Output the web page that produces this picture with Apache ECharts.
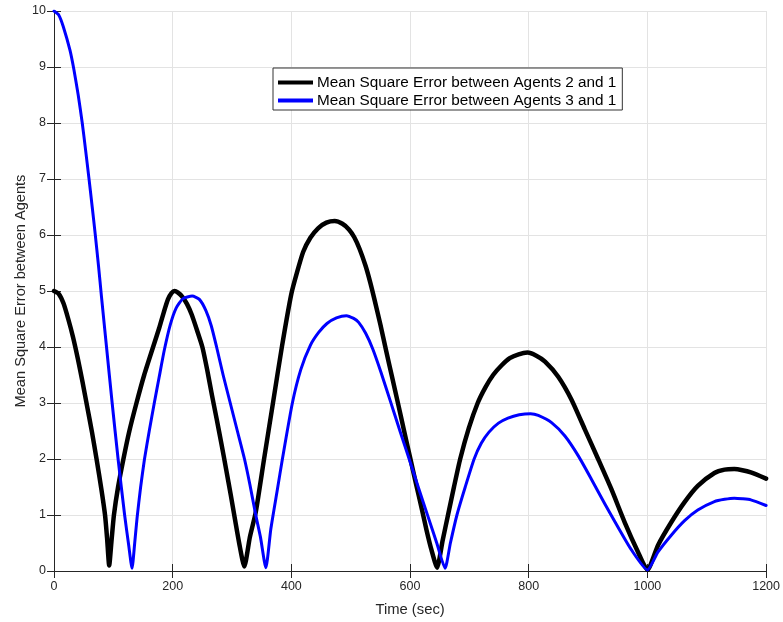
<!DOCTYPE html>
<html>
<head>
<meta charset="utf-8">
<title>Mean Square Error between Agents</title>
<script src="https://cdn.jsdelivr.net/npm/echarts@6/dist/echarts.min.js"></script>
<style>
  html, body { margin: 0; padding: 0; background: #ffffff; }
  #chart { width: 783px; height: 622px; }
</style>
</head>
<body>
<div id="chart"></div>
<script>
// Time samples (sec) and mean square error values for each agent pair
const timeA21 = [0, 8, 16, 24, 32, 40, 48, 56, 64, 72, 80, 86, 89.5, 93,
  97, 101, 108, 117, 127, 139, 152, 167, 177, 185, 192, 198, 203,
  209, 216, 224, 232, 241, 250, 258, 266, 274, 282, 290, 298, 305, 312, 320.7,
  330, 340, 354, 369, 384, 400, 410, 420, 432, 445, 459, 473,
  486, 497, 506, 515, 525, 533, 540, 550, 560, 570, 580, 590, 600, 610, 620, 628, 636, 645.5,
  655, 664, 674, 684.5, 699, 714, 727, 740, 754, 768, 783, 798,
  812, 827.5, 849.7, 872.1, 894.5, 916.9, 939.3, 961.7, 984.1, 1000,
  1017.9, 1040.2, 1062.6, 1084.9, 1112.9, 1130, 1146.4, 1160, 1174.3, 1200];
const mseA21 = [5.0, 4.95, 4.78, 4.5, 4.18, 3.8, 3.38, 2.93, 2.48, 1.98, 1.45, 1.0, 0.58, 0.1,
  0.55, 1.0, 1.5, 2.0, 2.5, 3.0, 3.5, 4.0, 4.33, 4.62, 4.85, 4.96, 5.0,
  4.97, 4.9, 4.77, 4.58, 4.3, 4.0, 3.6, 3.15, 2.72, 2.28, 1.82, 1.35, 0.92, 0.5, 0.08,
  0.6, 1.05, 2.0, 3.0, 4.0, 4.95, 5.35, 5.7, 5.95, 6.12, 6.22, 6.25,
  6.2, 6.1, 5.96, 5.75, 5.45, 5.15, 4.85, 4.4, 3.92, 3.45, 2.98, 2.5, 2.03, 1.56, 1.1, 0.72, 0.38, 0.06,
  0.55, 1.0, 1.5, 2.0, 2.55, 3.0, 3.28, 3.5, 3.67, 3.8, 3.87, 3.9,
  3.85, 3.74, 3.47, 3.06, 2.53, 2.0, 1.46, 0.87, 0.34, 0.02,
  0.46, 0.87, 1.23, 1.52, 1.75, 1.81, 1.82, 1.8, 1.76, 1.65];

const timeA31 = [0, 8, 15.7, 26.9, 33.6, 40.8, 47.6, 53.2, 58.8, 64.4, 69.4, 75,
  80, 88.5, 98, 108, 119, 126, 131.5,
  136, 140, 146, 152.5, 160.5, 169, 177, 186, 196, 206, 217, 232.9,
  245, 256, 265, 274, 285, 297, 309, 321, 330, 340, 348, 357,
  365.4, 376.5, 384.9, 401.7, 416, 432, 446, 460, 476, 492.7,
  505, 513.4, 525, 537, 551, 566, 583, 600, 615, 630, 645, 659,
  668, 679, 693, 708, 720, 733, 749, 765, 784, 803,
  816.1, 838.5, 861, 883.3, 905.6, 928.1, 950.5, 972.8, 1000,
  1017.9, 1040.2, 1062.6, 1084.9, 1112.9, 1130, 1146.4, 1160, 1174.3, 1200];
const mseA31 = [10.0, 9.93, 9.72, 9.3, 8.95, 8.5, 8.0, 7.52, 7.02, 6.5, 6.02, 5.45,
  4.9, 4.0, 3.0, 2.0, 1.0, 0.45, 0.05,
  0.5, 0.95, 1.5, 2.0, 2.5, 3.0, 3.45, 3.95, 4.4, 4.7, 4.86, 4.91,
  4.85, 4.65, 4.38, 4.0, 3.5, 3.0, 2.5, 2.0, 1.55, 1.0, 0.6, 0.06,
  0.75, 1.46, 2.0, 3.0, 3.6, 4.03, 4.26, 4.42, 4.52, 4.56,
  4.51, 4.44, 4.25, 3.97, 3.55, 3.06, 2.5, 1.95, 1.46, 0.98, 0.5, 0.05,
  0.5, 1.0, 1.5, 2.0, 2.28, 2.48, 2.64, 2.73, 2.79, 2.81,
  2.78, 2.65, 2.41, 2.06, 1.64, 1.2, 0.78, 0.38, 0.02,
  0.34, 0.64, 0.9, 1.09, 1.24, 1.28, 1.3, 1.29, 1.27, 1.17];

const seriesNames = [
  'Mean Square Error between Agents 2 and 1',
  'Mean Square Error between Agents 3 and 1'
];
const seriesColors = ['#000000', '#0000ff'];
const xTicks = [0, 200, 400, 600, 800, 1000, 1200];
const yTicks = [0, 1, 2, 3, 4, 5, 6, 7, 8, 9, 10];

const pairs = (xs, ys) => xs.map((x, i) => [x, ys[i]]);

const tickColor = '#262626';
const labelFont = 'Liberation Sans, Arial, Helvetica, sans-serif';

const chart = echarts.init(document.getElementById('chart'), null, { renderer: 'canvas' });

const baseX = {
  type: 'value',
  min: xTicks[0],
  max: xTicks[xTicks.length - 1],
  interval: xTicks[1] - xTicks[0]
};
const baseY = {
  type: 'value',
  min: yTicks[0],
  max: yTicks[yTicks.length - 1],
  interval: yTicks[1] - yTicks[0]
};
const boxLine = { show: true, lineStyle: { color: tickColor, width: 1 } };
const inTicks = { show: true, inside: true, length: 7, lineStyle: { color: tickColor } };

chart.setOption({
  backgroundColor: '#ffffff',
  animation: false,
  textStyle: { fontFamily: labelFont },
  grid: { left: 54, right: 14, top: 11, bottom: 46, containLabel: false },
  legend: {
    left: 273,
    top: 68,
    orient: 'vertical',
    backgroundColor: '#ffffff',
    borderColor: '#333333',
    borderWidth: 1,
    borderRadius: 0,
    padding: [7, 6, 2, 5],
    itemGap: 3,
    itemWidth: 35,
    itemHeight: 4,
    textStyle: { color: '#000000', fontSize: 15.3, fontFamily: labelFont, padding: [0, 0, 0, -1] },
    data: seriesNames.map((n, i) => ({
      name: n,
      icon: 'rect',
      itemStyle: { color: seriesColors[i] }
    }))
  },
  xAxis: [
    Object.assign({}, baseX, {
      position: 'bottom',
      name: 'Time (sec)',
      nameLocation: 'middle',
      nameGap: 31,
      nameMoveOverlap: false,
      nameTextStyle: { color: tickColor, fontSize: 14.8, fontFamily: labelFont },
      axisLine: boxLine,
      axisTick: inTicks,
      axisLabel: { color: tickColor, fontSize: 12.5, margin: 9, fontFamily: labelFont,
        formatter: (v) => String(v) },
      splitLine: { show: true, lineStyle: { color: '#e3e3e3', width: 1 } }
    }),
    Object.assign({}, baseX, {
      position: 'top',
      axisLine: boxLine,
      axisTick: inTicks,
      axisLabel: { show: false },
      splitLine: { show: false }
    })
  ],
  yAxis: [
    Object.assign({}, baseY, {
      position: 'left',
      name: 'Mean Square Error between Agents',
      nameLocation: 'middle',
      nameGap: 26,
      nameMoveOverlap: false,
      nameTextStyle: { color: tickColor, fontSize: 14.6, fontFamily: labelFont },
      axisLine: boxLine,
      axisTick: inTicks,
      axisLabel: { color: tickColor, fontSize: 12.5, margin: 8, fontFamily: labelFont },
      splitLine: { show: true, lineStyle: { color: '#e3e3e3', width: 1 } }
    }),
    Object.assign({}, baseY, {
      position: 'right',
      axisLine: boxLine,
      axisTick: inTicks,
      axisLabel: { show: false },
      splitLine: { show: false }
    })
  ],
  series: [
    {
      name: seriesNames[0],
      type: 'line',
      data: pairs(timeA21, mseA21),
      smooth: 0.2,
      showSymbol: false,
      symbol: 'none',
      lineStyle: { color: seriesColors[0], width: 4.5, join: 'round', cap: 'round' },
      itemStyle: { color: seriesColors[0] },
      z: 2
    },
    {
      name: seriesNames[1],
      type: 'line',
      data: pairs(timeA31, mseA31),
      smooth: 0.2,
      showSymbol: false,
      symbol: 'none',
      lineStyle: { color: seriesColors[1], width: 3, join: 'round', cap: 'round' },
      itemStyle: { color: seriesColors[1] },
      z: 3
    }
  ]
});
</script>
</body>
</html>
